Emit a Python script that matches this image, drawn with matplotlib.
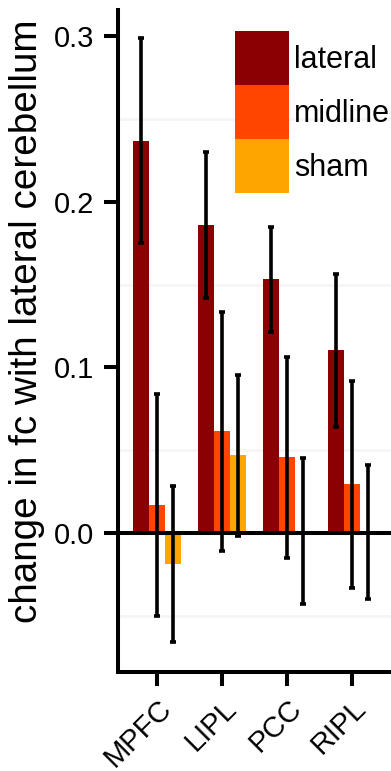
import numpy as np
import matplotlib.pyplot as plt

plt.rcParams["font.family"] = ["Liberation Sans", "DejaVu Sans"]

regions = ["MPFC", "LIPL", "PCC", "RIPL"]
conditions = ["lateral", "midline", "sham"]

means = {
    "lateral": [0.237, 0.186, 0.1535, 0.1106],
    "midline": [0.017, 0.0616, 0.046, 0.0296],
    "sham":    [-0.0187, 0.047, 0.001, 0.0003],
}
err_lo = {
    "lateral": [0.175, 0.142, 0.1215, 0.064],
    "midline": [-0.050, -0.011, -0.015, -0.033],
    "sham":    [-0.066, -0.002, -0.043, -0.040],
}
err_hi = {
    "lateral": [0.299, 0.230, 0.185, 0.1565],
    "midline": [0.084, 0.1335, 0.1063, 0.0918],
    "sham":    [0.0284, 0.0955, 0.0453, 0.041],
}
colors = {"lateral": "#8B0000", "midline": "#FF4500", "sham": "#FFA500"}

fig = plt.figure(figsize=(3.91, 7.71), dpi=100)
ax = fig.add_axes([118 / 391, 1 - 672 / 771, 1 - 118 / 391, (672 - 10) / 771])

x = np.arange(len(regions))
width = 0.25

# faint grid at the half steps
for gy in [0.25, 0.15, 0.05, -0.05]:
    ax.axhline(gy, color="#f5f5f5", lw=2, zorder=0)

for i, c in enumerate(conditions):
    pos = x + (i - 1) * width
    m = np.array(means[c])
    lo = m - np.array(err_lo[c])
    hi = np.array(err_hi[c]) - m
    ax.bar(pos, m, width, color=colors[c], label=c, zorder=2)
    ax.errorbar(pos, m, yerr=[lo, hi], fmt="none", ecolor="black",
                elinewidth=2.6, capsize=2.2, capthick=2.6, zorder=3)

ax.axhline(0, color="black", lw=2.9, zorder=4)

ax.set_xlim(-0.6, 3.6)
ax.set_ylim(-0.084, 0.316)
ax.set_yticks([0.0, 0.1, 0.2, 0.3])
ax.set_yticklabels(["0.0", "0.1", "0.2", "0.3"])
ax.set_xticks(x)
ax.set_xticklabels(regions, rotation=45, ha="right", rotation_mode="anchor")
ax.tick_params(axis="both", labelsize=21, width=2.9, length=10)
ax.tick_params(axis="y", pad=7)
ax.tick_params(axis="x", pad=6)
ax.set_ylabel("change in fc with lateral cerebellum", fontsize=27.8)
ax.yaxis.set_label_coords(-0.267, 0.53)

for s in ["top", "right"]:
    ax.spines[s].set_visible(False)
for s in ["left", "bottom"]:
    ax.spines[s].set_linewidth(2.9)

ax.legend(loc="upper left", bbox_to_anchor=(235 / 391, 1 - 31 / 771),
          bbox_transform=fig.transFigure, frameon=False, fontsize=22,
          borderpad=0, borderaxespad=0, labelspacing=0,
          handlelength=1.77, handleheight=2.35, handletextpad=0.15)

plt.savefig("out.png", dpi=100)
